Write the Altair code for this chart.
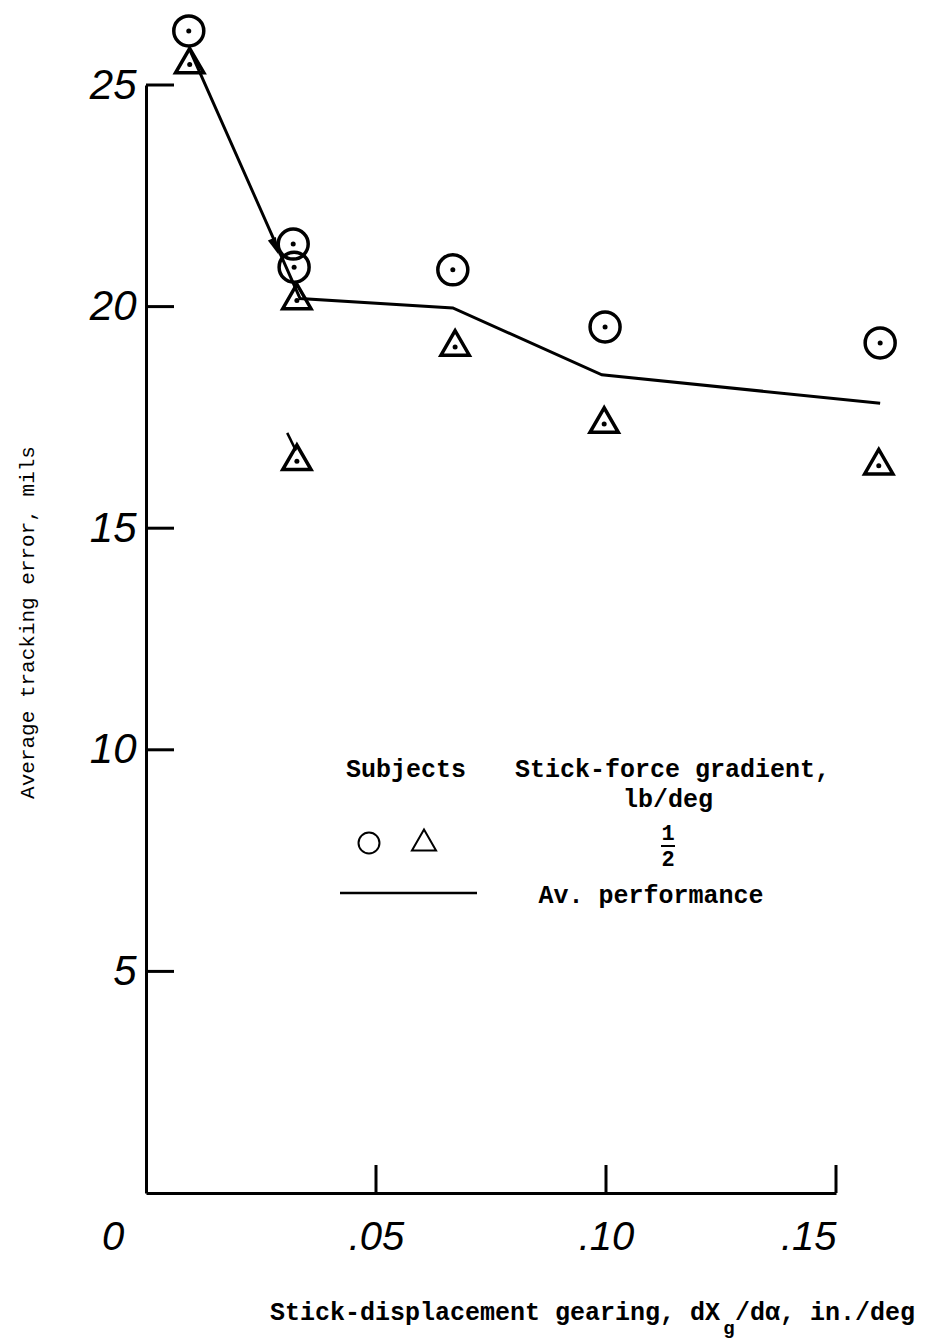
import altair as alt
import pandas as pd

# ---------------- data ----------------
circle_x = [0.0093, 0.0320, 0.0322, 0.0667, 0.0998, 0.1596]
circle_y = [26.22, 21.41, 20.89, 20.83, 19.54, 19.18]

tri_x = [0.0095, 0.0328, 0.0328, 0.0672, 0.0996, 0.1593]
tri_y = [25.55, 20.23, 16.60, 19.18, 17.44, 16.50]

avg_x = [0.0095, 0.0335, 0.0667, 0.0991, 0.1596]
avg_y = [25.80, 20.18, 19.97, 18.46, 17.82]

arrow_x = [0.0281]
arrow_y = [21.35]

tail_x = [0.0307]
tail_x2 = [0.0326]
tail_y = [17.15]
tail_y2 = [16.75]

x_tick_values = [0.05, 0.10, 0.15]
y_tick_values = [5, 10, 15, 20, 25]

MONO = "Liberation Mono"
NUMF = "Liberation Sans"

W, H = 690, 1108

circles = pd.DataFrame({"x": circle_x, "y": circle_y})
tris = pd.DataFrame({"x": tri_x, "y": tri_y})
avg = pd.DataFrame({"x": avg_x, "y": avg_y})
arrow = pd.DataFrame({"x": arrow_x, "y": arrow_y})
tail = pd.DataFrame({"x": tail_x, "x2": tail_x2, "y": tail_y, "y2": tail_y2})
xt = pd.DataFrame({"x": x_tick_values})
yt = pd.DataFrame({"y": y_tick_values})
origin = pd.DataFrame({"x": [0.0], "y": [0.0]})

xscale = alt.Scale(domain=[0, 0.15], nice=False, zero=False)
yscale = alt.Scale(domain=[0, 25], nice=False, zero=False)

X = alt.X(
    "x:Q",
    scale=xscale,
    axis=alt.Axis(
        values=x_tick_values,
        labelExpr="substring(format(datum.value, '.2f'), 1)",
        ticks=False,
        grid=False,
        domainColor="black",
        domainWidth=3,
        labelFont=NUMF,
        labelFontStyle="italic",
        labelFontSize=40,
        labelColor="black",
        labelPadding=24,
        title="Stick-displacement gearing,  dX /dα, in./deg",
        titleFont=MONO,
        titleFontSize=25,
        titleFontWeight="bold",
        titleColor="black",
        titleX=446,
        titleY=118,
        titleAlign="center",
        titleBaseline="middle",
    ),
)
Y = alt.Y(
    "y:Q",
    scale=yscale,
    axis=alt.Axis(
        values=y_tick_values,
        ticks=False,
        grid=False,
        domainColor="black",
        domainWidth=3,
        labelFont=NUMF,
        labelFontStyle="italic",
        labelFontSize=42,
        labelColor="black",
        labelPadding=10,
        title="Average tracking error, mils",
        titleFont=MONO,
        titleFontSize=21,
        titleFontWeight="normal",
        titleColor="black",
        titleAngle=270,
        titleX=-119,
        titleY=537,
        titleAlign="center",
        titleBaseline="middle",
    ),
)

line = alt.Chart(avg).mark_line(color="black", strokeWidth=3).encode(x=X, y=Y)

arrow_head = alt.Chart(arrow).mark_point(
    shape="M0,-1L0.5,1L-0.5,1Z", size=300, filled=True, color="black",
    angle=157, opacity=1, strokeWidth=0
).encode(x=X, y=Y)

circ = alt.Chart(circles).mark_point(
    shape="circle", size=900, filled=False, color="black", strokeWidth=3.5, opacity=1
).encode(x=X, y=Y)
circ_dot = alt.Chart(circles).mark_circle(size=25, color="black", opacity=1).encode(x=X, y=Y)

tri = alt.Chart(tris).mark_point(
    shape="triangle-up", size=800, filled=False, color="black", strokeWidth=3.5, opacity=1
).encode(x=X, y=Y)
tri_dot = alt.Chart(tris).mark_circle(size=25, color="black", opacity=1, yOffset=4).encode(x=X, y=Y)

tail_rule = alt.Chart(tail).mark_rule(color="black", strokeWidth=2.5).encode(
    x=X, y=Y, x2="x2:Q", y2="y2:Q"
)

ytick = alt.Chart(yt).mark_rule(color="black", strokeWidth=3).encode(
    y=Y, x=alt.value(0), x2=alt.value(28)
)
xtick = alt.Chart(xt).mark_rule(color="black", strokeWidth=3).encode(
    x=X, y=alt.value(H), y2=alt.value(H - 28)
)

zero_label = alt.Chart(origin).mark_text(
    text="0", font=NUMF, fontStyle="italic", fontSize=40, color="black",
    dx=-33, dy=45, align="center", baseline="middle"
).encode(x=X, y=Y)


def note(text, x, y, size=25, weight="bold", align="center"):
    return alt.Chart(alt.Data(values=[{}])).mark_text(
        text=text, font=MONO, fontSize=size, fontWeight=weight,
        align=align, baseline="middle", color="black"
    ).encode(x=alt.value(x), y=alt.value(y))


sub_g = note("g", 583, 1243, size=19)

leg_subjects = note("Subjects", 260, 684)
leg_sfg = note("Stick-force gradient,", 369, 684, align="left")
leg_lb = note("lb/deg", 522, 714)
leg_one = note("1", 522, 748, size=22)
leg_two = note("2", 522, 774, size=22)
leg_bar = alt.Chart(alt.Data(values=[{}])).mark_rule(color="black", strokeWidth=2).encode(
    x=alt.value(515), x2=alt.value(529), y=alt.value(761)
)
leg_circle = alt.Chart(alt.Data(values=[{}])).mark_point(
    shape="circle", size=440, filled=False, color="black", strokeWidth=2, opacity=1
).encode(x=alt.value(223), y=alt.value(758))
leg_tri = alt.Chart(alt.Data(values=[{}])).mark_point(
    shape="triangle-up", size=580, filled=False, color="black", strokeWidth=2, opacity=1
).encode(x=alt.value(278), y=alt.value(755))
leg_line = alt.Chart(alt.Data(values=[{}])).mark_rule(color="black", strokeWidth=2.5).encode(
    x=alt.value(194), x2=alt.value(331), y=alt.value(808)
)
leg_av = note("Av. performance", 505, 810)

chart = alt.layer(
    line, arrow_head, circ, circ_dot, tri, tri_dot, tail_rule, ytick, xtick, zero_label,
    sub_g, leg_subjects, leg_sfg, leg_lb, leg_one, leg_two, leg_bar,
    leg_circle, leg_tri, leg_line, leg_av,
).properties(
    width=W,
    height=H,
    autosize=alt.AutoSizeParams(type="none"),
    padding={"left": 138, "top": 77, "right": 82, "bottom": 146},
    background="white",
).configure_view(stroke=None)

chart.save("out.html", embed_options={"renderer": "svg", "actions": False})
